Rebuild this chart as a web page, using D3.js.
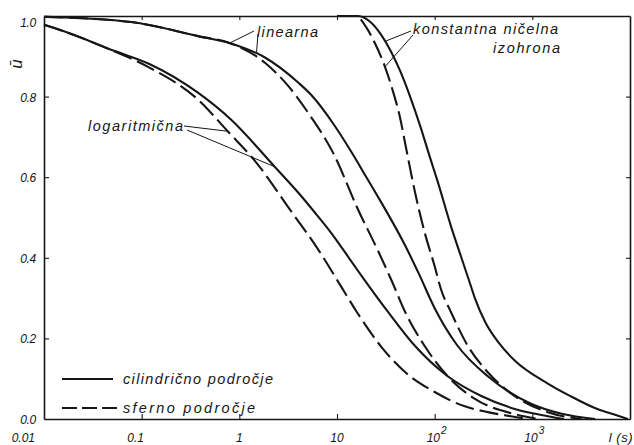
<!DOCTYPE html>
<html>
<head>
<meta charset="utf-8">
<script src="https://cdn.jsdelivr.net/npm/d3@7"></script>
<style>
  html, body { margin: 0; padding: 0; background: #ffffff; }
  svg { display: block; }
  text { font-family: "Liberation Sans", Arial, sans-serif; font-style: italic; fill: #161616; }
</style>
</head>
<body>
<svg id="chart" width="634" height="445"></svg>
<script>
// Mean value ū versus time t (s) for three initial conditions,
// cylindrical (solid) and spherical (dashed) regions.

// logarithmic initial condition
const logCylT = [0.01, 0.016, 0.053, 0.12, 0.38, 0.82, 2.3, 4.0, 5.9, 8.7, 15, 19, 33, 63, 136, 300, 660, 1440, 2100];
const logCylU = [0.978, 0.962, 0.913, 0.881, 0.809, 0.743, 0.626, 0.562, 0.513, 0.462, 0.381, 0.346, 0.267, 0.181, 0.106, 0.057, 0.025, 0.007, 0.0];
const logSphT = [0.01, 0.016, 0.045, 0.12, 0.38, 0.76, 1.45, 3.4, 6.4, 11, 16, 28, 50, 100, 200, 350, 600, 900];
const logSphU = [0.978, 0.962, 0.919, 0.872, 0.792, 0.714, 0.640, 0.515, 0.421, 0.329, 0.265, 0.181, 0.116, 0.067, 0.032, 0.017, 0.007, 0.0];

// linear initial condition
const linCylT = [0.01, 0.078, 0.38, 0.82, 1.83, 4.0, 5.4, 9.5, 13.6, 20, 28, 50, 69, 100, 170, 350, 970, 2000, 4400];
const linCylU = [0.998, 0.985, 0.950, 0.932, 0.897, 0.835, 0.805, 0.727, 0.668, 0.600, 0.540, 0.430, 0.360, 0.275, 0.183, 0.106, 0.038, 0.013, 0.0];
const linSphT = [0.01, 0.078, 0.38, 0.82, 1.83, 3.1, 5.4, 9.1, 16.4, 26, 36, 50, 79, 136, 258, 660, 1150];
const linSphU = [0.998, 0.985, 0.950, 0.932, 0.884, 0.829, 0.750, 0.661, 0.520, 0.420, 0.345, 0.265, 0.181, 0.106, 0.050, 0.012, 0.0];

// constant zero isochrone
const constCylT = [10, 16.4, 22, 28, 36, 45, 57, 72, 89, 108, 147, 185, 224, 258, 330, 450, 660, 1440, 2400, 4700, 6900, 9500];
const constCylU = [1.0, 1.0, 0.985, 0.955, 0.910, 0.860, 0.795, 0.723, 0.651, 0.587, 0.478, 0.405, 0.345, 0.300, 0.240, 0.190, 0.145, 0.088, 0.058, 0.024, 0.011, 0.0];
const constSphT = [10, 15.6, 19.8, 24.4, 31, 37, 44, 51, 63, 79, 100, 116, 147, 219, 350, 660, 1440, 3200];
const constSphU = [1.0, 1.0, 0.973, 0.933, 0.874, 0.817, 0.750, 0.672, 0.562, 0.463, 0.379, 0.322, 0.265, 0.181, 0.116, 0.057, 0.017, 0.0];

// axes
const xTickValues = [0.01, 0.1, 1, 10, 100, 1000];
const xTickLabels = ["0.01", "0.1", "1", "10", "10^2", "10^3"];
const yTickValues = [0.0, 0.2, 0.4, 0.6, 0.8, 1.0];
const yTickLabels = ["0.0", "0.2", "0.4", "0.6", "0.8", "1.0"];
const xTitle = "l (s)";
const yTitle = "ū";

// labels
const legendLabels = ["cilindrično  področje", "sferno  področje"];
const noteLinear = "linearna";
const noteLog = "logaritmična";
const noteConst = ["konstantna  ničelna", "izohrona"];

const INK = "#161616";
const svg = d3.select("#chart");

const x = d3.scaleLog().domain([0.01, 1e4]).range([44, 630]);
const y = d3.scaleLinear().domain([0, 1]).range([419, 16]);

const zip = (t, u) => t.map((v, i) => [v, u[i]]);
const series = [
  { pts: zip(logCylT, logCylU), dashed: false },
  { pts: zip(logSphT, logSphU), dashed: true },
  { pts: zip(linCylT, linCylU), dashed: false },
  { pts: zip(linSphT, linSphU), dashed: true },
  { pts: zip(constCylT, constCylU), dashed: false },
  { pts: zip(constSphT, constSphU), dashed: true }
];

// frame with inward ticks
const inner = xTickValues.slice(1);
const innerY = yTickValues.slice(1, -1);
function styleAxis(g) {
  g.select(".domain").attr("stroke", INK).attr("stroke-width", 1.6);
  g.selectAll(".tick line").attr("stroke", INK).attr("stroke-width", 1.1);
  g.selectAll(".tick text").remove();
}
svg.append("g").attr("transform", `translate(0,${y(0)})`)
  .call(d3.axisBottom(x).tickValues(inner).tickSizeInner(-5).tickSizeOuter(0).tickFormat(""))
  .call(styleAxis);
svg.append("g").attr("transform", `translate(0,${y(1)})`)
  .call(d3.axisTop(x).tickValues(inner).tickSizeInner(-4).tickSizeOuter(0).tickFormat(""))
  .call(styleAxis);
svg.append("g").attr("transform", `translate(${x(0.01)},0)`)
  .call(d3.axisLeft(y).tickValues(innerY).tickSizeInner(-5).tickSizeOuter(0).tickFormat(""))
  .call(styleAxis);
svg.append("g").attr("transform", `translate(${x(1e4)},0)`)
  .call(d3.axisRight(y).tickValues(innerY).tickSizeInner(-4).tickSizeOuter(0).tickFormat(""))
  .call(styleAxis);

// bottom tick labels
xTickValues.forEach((v, i) => {
  const lab = xTickLabels[i];
  let px = x(v), anchor = "middle";
  if (i === 0) { px = x(v) - 9; anchor = "end"; }
  if (i === 1) { px = x(v) - 6; }
  const t = svg.append("text").attr("x", px).attr("y", 442)
    .attr("text-anchor", anchor).attr("font-size", 12);
  if (lab.includes("^")) {
    const [b, e] = lab.split("^");
    t.attr("text-anchor", "start").attr("x", px - 8);
    t.append("tspan").text(b);
    t.append("tspan").attr("dy", -8).attr("dx", 1).attr("font-size", 10).text(e);
  } else {
    t.text(lab);
  }
});
svg.append("text").attr("x", x(1e4) + 3).attr("y", 442).attr("text-anchor", "end")
  .attr("font-size", 13).attr("letter-spacing", 0.5).text(xTitle);

// left tick labels
yTickValues.forEach((v, i) => {
  const dy = v === 1 ? 11 : 5;
  svg.append("text").attr("x", 36).attr("y", y(v) + dy)
    .attr("text-anchor", "end").attr("font-size", 12).attr("letter-spacing", -0.3)
    .text(yTickLabels[i]);
});
svg.append("text").attr("transform", `translate(22,64) rotate(-90)`)
  .attr("text-anchor", "middle").attr("font-size", 17).attr("font-style", "normal")
  .text(yTitle);

// curves
const line = d3.line().x(d => x(d[0])).y(d => y(d[1])).curve(d3.curveMonotoneX);
svg.append("g").selectAll("path").data(series).join("path")
  .attr("d", d => line(d.pts))
  .attr("fill", "none")
  .attr("stroke", INK)
  .attr("stroke-width", 2.1)
  .attr("stroke-dasharray", d => d.dashed ? "19,6" : null);

// annotations with leader lines (anchors given as [t, u] on the curves)
const notes = [
  { text: noteLinear, x: 257, y: 36.5, len: 61,
    leaders: [[254, 31, 0.8, 0.933], [258, 34, 1.5, 0.91]] },
  { text: noteLog, x: 88, y: 131, len: 95,
    leaders: [[184, 126, 0.76, 0.714], [187, 130, 2.3, 0.626]] },
  { text: noteConst[0], x: 413, y: 33.5, len: 145,
    leaders: [[411, 31, 31, 0.937], [413, 35, 31, 0.874]] }
];
notes.forEach(n => {
  svg.append("text").attr("x", n.x).attr("y", n.y).attr("font-size", 14.5)
    .attr("textLength", n.len).attr("lengthAdjust", "spacing").text(n.text);
  n.leaders.forEach(([x0, y0, t, u]) => {
    svg.append("line").attr("x1", x0).attr("y1", y0).attr("x2", x(t)).attr("y2", y(u))
      .attr("stroke", INK).attr("stroke-width", 1);
  });
});
svg.append("text").attr("x", 493).attr("y", 52.5).attr("font-size", 14.5)
  .attr("textLength", 67).attr("lengthAdjust", "spacing").text(noteConst[1]);

// legend
const legend = [
  { label: legendLabels[0], dashed: false, ly: 379, x2: 113, len: 150 },
  { label: legendLabels[1], dashed: true, ly: 408, x2: 118, len: 132 }
];
legend.forEach(l => {
  svg.append("line").attr("x1", 62).attr("x2", l.x2).attr("y1", l.ly).attr("y2", l.ly)
    .attr("stroke", INK).attr("stroke-width", 2)
    .attr("stroke-dasharray", l.dashed ? "15,5" : null);
  svg.append("text").attr("x", 123).attr("y", l.ly + 5).attr("font-size", 14.5)
    .attr("textLength", l.len).attr("lengthAdjust", "spacing").text(l.label);
});
</script>
</body>
</html>
